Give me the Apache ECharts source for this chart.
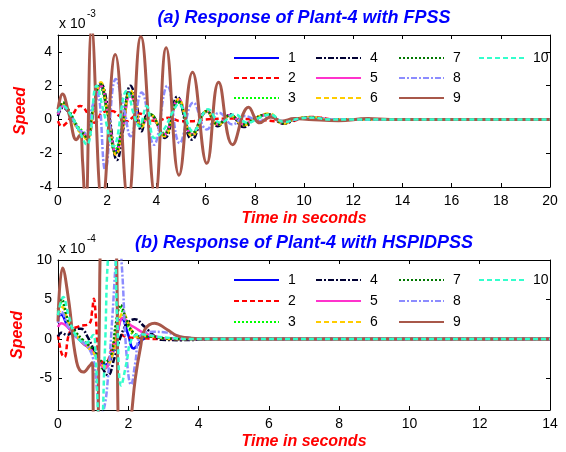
<!DOCTYPE html>
<html><head><meta charset="utf-8">
<script src="https://cdn.jsdelivr.net/npm/echarts@6/dist/echarts.min.js"></script>
<style>html,body{margin:0;padding:0;background:#fff}#c{width:566px;height:452px}</style>
</head><body><div id="c"></div>
<script>
// Series names (legend entries)
const seriesNames = ['1','2','3','4','5','6','7','8','9','10'];

// (a) FPSS response, speed in units of 1e-3, time in s
const topS1 = [[0,0.3],[0.2,0.9],[0.45,0.4],[0.8,-0.5],[1.0,-0.8],[1.18,-1.1],[1.42,0.5],[1.72,2.0],[2.0,0.5],[2.35,-1.9],[2.6,-0.6],[2.92,1.6],[3.1,1.1],[3.35,-0.4],[3.75,0.3],[4.3,-0.9],[4.88,1.1],[5.45,-0.9],[6.05,0.5],[6.5,-0.3],[7.0,0.25],[7.55,-0.3],[8.05,0.1],[8.55,0.3],[9.15,-0.2],[9.7,0.05],[10.3,0.1],[11,0],[12,0],[20,0]];
const topS2 = [[0,-0.1],[0.15,-0.4],[0.35,-0.2],[0.6,0.3],[0.9,0.8],[1.05,0.7],[1.3,0.1],[1.5,-0.2],[1.8,0.4],[2.2,0.5],[2.5,0.2],[2.8,-0.1],[3.1,0.2],[3.3,0.35],[3.7,0.0],[4.0,-0.1],[4.5,0.1],[5.0,-0.1],[5.5,-0.1],[6.0,0.0],[7.0,0.05],[8.0,0],[8.8,-0.1],[9.3,-0.15],[9.8,0],[10.3,0.15],[10.7,0.1],[11.2,0],[20,0]];
const topS3 = [[0,0.4],[0.2,1.0],[0.45,0.5],[0.8,-0.4],[1.0,-0.7],[1.18,-1.0],[1.42,0.6],[1.7,1.9],[2.0,0.4],[2.33,-1.8],[2.6,-0.5],[2.9,1.5],[3.1,1.0],[3.35,-0.3],[3.75,0.3],[4.3,-0.8],[4.88,1.0],[5.45,-0.8],[6.05,0.45],[6.5,-0.25],[7.0,0.2],[7.55,-0.25],[8.05,0.1],[8.55,0.25],[9.15,-0.15],[9.7,0.05],[10.3,0.1],[11,0],[20,0]];
const topS4 = [[0,0.2],[0.2,0.7],[0.45,0.4],[0.8,-0.5],[1.05,-0.9],[1.2,-1.2],[1.45,0.5],[1.75,2.1],[2.05,0.5],[2.4,-2.4],[2.65,-0.6],[2.95,2.0],[3.15,1.3],[3.4,-0.7],[3.65,0.3],[3.85,0.2],[4.35,-1.1],[4.85,1.35],[5.45,-1.2],[6.05,0.5],[6.5,-0.4],[7.0,0.3],[7.55,-0.45],[8.05,0.1],[8.55,0.3],[9.15,-0.25],[9.8,0.05],[10.3,0.1],[11,0],[20,0]];
const topS5 = [[0,0.3],[0.2,0.8],[0.45,0.4],[0.8,-0.5],[1.0,-0.8],[1.18,-1.0],[1.44,0.5],[1.74,2.0],[2.0,0.6],[2.37,-2.0],[2.62,-0.6],[2.93,1.4],[3.12,1.0],[3.38,-0.4],[3.75,0.25],[4.3,-0.9],[4.9,1.2],[5.45,-0.9],[6.05,0.5],[6.5,-0.3],[7.0,0.25],[7.55,-0.3],[8.05,0.1],[8.55,0.3],[9.15,-0.2],[9.7,0.05],[10.3,0.1],[11,0],[20,0]];
const topS6 = [[0,0.4],[0.2,0.9],[0.45,0.4],[0.8,-0.6],[1.0,-0.9],[1.18,-1.2],[1.44,0.6],[1.74,2.2],[2.0,0.5],[2.37,-2.1],[2.62,-0.6],[2.95,1.7],[3.12,1.2],[3.38,-0.5],[3.75,0.3],[4.32,-1.0],[4.9,1.2],[5.45,-1.0],[6.05,0.5],[6.5,-0.35],[7.0,0.25],[7.55,-0.35],[8.05,0.1],[8.6,0.35],[9.15,-0.25],[9.7,0.05],[10.3,0.12],[11,0],[20,0]];
const topS7 = [[0,0.4],[0.2,1.0],[0.45,0.5],[0.8,-0.5],[1.0,-0.8],[1.18,-1.1],[1.42,0.6],[1.72,2.1],[2.0,0.5],[2.35,-2.0],[2.6,-0.6],[2.92,1.6],[3.1,1.1],[3.35,-0.4],[3.75,0.3],[4.3,-0.9],[4.88,1.1],[5.45,-0.9],[6.05,0.5],[6.5,-0.3],[7.0,0.25],[7.55,-0.3],[8.05,0.1],[8.55,0.3],[9.15,-0.2],[9.7,0.05],[10.3,0.1],[11,0],[20,0]];
const topS8 = [[0,0.4],[0.2,0.8],[0.5,0.3],[0.85,-0.6],[1.1,-0.8],[1.4,0.8],[1.6,1.5],[1.92,-3.0],[2.35,2.4],[2.7,0.5],[2.95,-1.0],[3.4,1.6],[3.9,-1.5],[4.45,2.0],[4.95,-1.4],[5.5,1.0],[6.05,-0.6],[6.55,0.4],[7.1,-0.3],[7.6,0.2],[8.2,-0.1],[8.6,0.15],[9.2,-0.1],[10,0.05],[11,0],[20,0]];
const topS9 = [[0,0.6],[0.18,1.5],[0.45,0.3],[0.75,-1.2],[0.9,-0.9],[1.0,-2.5],[1.12,-5.5],[1.37,5.3],[1.8,-5.0],[2.33,3.85],[2.85,-4.8],[3.37,4.9],[3.95,-4.5],[4.4,4.25],[4.92,-3.3],[5.47,2.8],[6.05,-2.6],[6.53,2.2],[7.1,-1.5],[7.75,0.72],[8.2,-0.2],[8.65,0.15],[9.1,-0.1],[9.6,0.05],[10.2,0],[11.4,-0.08],[12.6,0.05],[13.5,0],[20,0]];
const topS10 = [[0,0.5],[0.2,0.8],[0.5,0.3],[0.8,-0.5],[1.17,-1.5],[1.57,2.0],[1.85,0.5],[2.25,-1.6],[2.8,1.7],[3.1,0.2],[3.3,-0.4],[3.6,0.8],[3.92,-1.1],[4.3,-0.6],[4.65,0.4],[4.9,0.9],[5.5,-0.7],[6.1,0.6],[6.6,-0.2],[7.2,0.3],[7.7,-0.2],[8.2,0.1],[8.6,0.3],[9.2,-0.15],[9.8,0.05],[10.4,0.1],[11,0],[20,0]];

// (b) HSPIDPSS response, speed in units of 1e-4, time in s
const botS1 = [[0,2.6],[0.08,3.1],[0.3,1.4],[0.5,0.5],[0.7,-0.5],[0.9,-1.2],[1.05,-1.8],[1.3,-3.3],[1.48,-2.8],[1.66,0.1],[1.82,2.6],[2.0,0.5],[2.15,-1.2],[2.4,-0.1],[2.65,0.3],[3.0,0.1],[3.5,0],[14,0]];
const botS2 = [[0,0.5],[0.1,-1.8],[0.18,-2.3],[0.34,0.9],[0.6,1.6],[0.9,2.0],[0.97,3.5],[1.02,5.1],[1.08,2.5],[1.16,-2.4],[1.35,-3.0],[1.55,-1.0],[1.75,0.6],[2.0,0.2],[2.4,0.1],[2.8,0],[14,0]];
const botS3 = [[0,3.5],[0.1,4.6],[0.3,2.0],[0.5,0.8],[0.7,-0.2],[0.9,-1.0],[1.05,-1.6],[1.3,-3.8],[1.5,-2.5],[1.65,1.5],[1.76,4.0],[1.95,2.0],[2.15,0.5],[2.35,0.2],[2.6,0.3],[3.0,0.1],[3.5,0],[14,0]];
const botS4 = [[0,0.3],[0.1,0.8],[0.25,0.5],[0.5,1.2],[0.65,1.3],[0.85,0.2],[1.0,-1.2],[1.2,-3.0],[1.42,-4.6],[1.6,-2.5],[1.8,0.5],[1.98,2.0],[2.18,2.5],[2.45,1.6],[2.75,0.35],[2.95,-0.1],[3.5,-0.15],[4.0,-0.1],[4.4,0],[14,0]];
const botS5 = [[0,1.5],[0.1,2.0],[0.25,1.6],[0.5,0.4],[0.7,-0.5],[0.9,-1.2],[1.05,-2.0],[1.33,-3.7],[1.55,-1.5],[1.7,1.0],[1.85,2.7],[2.05,1.8],[2.2,1.4],[2.42,0.8],[2.7,0.4],[3.0,0.1],[3.4,0],[14,0]];
const botS6 = [[0,3.0],[0.12,4.0],[0.3,2.0],[0.5,0.6],[0.7,-0.4],[0.9,-1.3],[1.05,-2.0],[1.35,-3.5],[1.55,-2.0],[1.7,1.5],[1.85,3.3],[2.05,1.5],[2.25,0.3],[2.5,0.4],[2.8,0.2],[3.2,0],[14,0]];
const botS7 = [[0,3.8],[0.1,5.0],[0.3,2.2],[0.5,0.9],[0.7,-0.1],[0.9,-0.9],[1.05,-1.5],[1.3,-3.0],[1.5,-2.2],[1.65,2.0],[1.78,4.3],[1.95,2.4],[2.15,0.8],[2.4,0.3],[2.7,0.3],[3.0,0.1],[3.5,0],[14,0]];
const botS8 = [[0,2.0],[0.1,3.4],[0.3,1.5],[0.5,0.3],[0.8,-0.8],[1.0,-2.5],[1.1,-6],[1.2,-9.5],[1.3,-9],[1.42,-5],[1.55,3],[1.65,10],[1.73,13],[1.82,9],[1.95,-2],[2.08,-5.8],[2.2,-3],[2.33,0.3],[2.7,0.9],[3.1,0.8],[3.4,0.4],[3.8,0.1],[4.3,0],[14,0]];
const botS9 = [[0,2.2],[0.13,9.0],[0.3,5.0],[0.53,-2.9],[0.72,-4.2],[0.9,-3.4],[0.97,-3.0],[1.02,-12],[1.1,-15],[1.17,0],[1.22,14],[1.45,16],[1.66,12],[1.72,-12],[1.9,-16],[2.08,-10],[2.2,-5],[2.35,-1],[2.47,1.2],[2.75,2.0],[3.1,1.2],[3.4,0.4],[3.8,0.1],[4.2,0],[14,0]];
const botS10 = [[0,3.0],[0.15,5.3],[0.3,3.0],[0.5,0.5],[0.8,-0.5],[1.0,0.5],[1.07,-2],[1.15,-10],[1.22,-12],[1.33,-2],[1.45,12],[1.58,13],[1.68,3],[1.8,-5.9],[1.95,-3],[2.1,0],[2.35,0.6],[2.8,0.3],[3.3,0.1],[3.8,0],[14,0]];

const topData = [topS1,topS2,topS3,topS4,topS5,topS6,topS7,topS8,topS9,topS10];
const botData = [botS1,botS2,botS3,botS4,botS5,botS6,botS7,botS8,botS9,botS10];

const lineStyles = [
  {color:'#0000ff', type:'solid', width:2.5},
  {color:'#ff0000', type:[5,3], width:2.5},
  {color:'#00ff00', type:[2,2], width:2.5},
  {color:'#000033', type:[6,2,2,2], width:2.5},
  {color:'#ff33cc', type:'solid', width:2.5},
  {color:'#ffcc00', type:[5,3], width:2.5},
  {color:'#007700', type:[2,2], width:2.5},
  {color:'#8c8cff', type:[6,2,2,2], width:2.5},
  {color:'#a8584a', type:'solid', width:3},
  {color:'#33ffcc', type:[5,3], width:2.5}
];

const FONT = '"Liberation Sans", Arial, sans-serif';
const series = [];
function addSeries(dataSets, xi, yi) {
  dataSets.forEach((d, i) => {
    const s = lineStyles[i];
    series.push({
      name: seriesNames[i], type:'line', xAxisIndex:xi, yAxisIndex:yi,
      data: d, showSymbol:false, symbol:'none', smooth:0.45, clip:true,
      lineStyle:{color:s.color, type:s.type, width:s.width},
      itemStyle:{color:s.color}, animation:false, z: 2 + i
    });
  });
}
addSeries(topData, 0, 0);
addSeries(botData, 2, 2);

const tickStyle = {show:true, inside:true, length:4, lineStyle:{color:'#000', width:1}};
const lineAx = {show:true, onZero:false, lineStyle:{color:'#000', width:1}};
const labelStyle = {color:'#000', fontSize:14, fontFamily:FONT};
const nameStyle = {color:'#ff0000', fontSize:16, fontWeight:'bold', fontStyle:'italic', fontFamily:FONT};

function legendCol(names, left, top, gap) {
  return {orient:'vertical', left:left, top:top, itemWidth:45, itemHeight:14, itemGap:gap,
    data:names, selectedMode:false, padding:0,
    itemStyle:{opacity:0, borderWidth:0},
    textStyle:{fontSize:14, color:'#000', fontFamily:FONT, padding:[0,0,0,4]}};
}

const option = {
  backgroundColor:'#fff',
  animation:false,
  grid:[
    {left:58, top:35, width:492, height:152},
    {left:58, top:260, width:492, height:150}
  ],
  legend:[
    legendCol(['1','2','3'],233,51,6),
    legendCol(['4','5','6'],315,51,6),
    legendCol(['7','8','9'],398,51,6),
    legendCol(['10'],478,51,6),
    legendCol(['1','2','3'],233,273,7),
    legendCol(['4','5','6'],315,273,7),
    legendCol(['7','8','9'],398,273,7),
    legendCol(['10'],478,273,7)
  ],
  xAxis:[
    {type:'value', gridIndex:0, position:'bottom', min:0, max:20, interval:2,
     axisLine:lineAx, axisTick:tickStyle, splitLine:{show:false}, axisLabel:Object.assign({margin:7}, labelStyle),
     name:'Time in seconds', nameLocation:'middle', nameGap:24, nameTextStyle:nameStyle},
    {type:'value', gridIndex:0, position:'top', min:0, max:20, interval:2,
     axisLine:lineAx, axisTick:tickStyle, splitLine:{show:false}, axisLabel:{show:false}},
    {type:'value', gridIndex:1, position:'bottom', min:0, max:14, interval:2,
     axisLine:lineAx, axisTick:tickStyle, splitLine:{show:false}, axisLabel:Object.assign({margin:7}, labelStyle),
     name:'Time in seconds', nameLocation:'middle', nameGap:24, nameTextStyle:nameStyle},
    {type:'value', gridIndex:1, position:'top', min:0, max:14, interval:2,
     axisLine:lineAx, axisTick:tickStyle, splitLine:{show:false}, axisLabel:{show:false}}
  ],
  yAxis:[
    {type:'value', gridIndex:0, position:'left', min:-4, max:5, interval:2,
     axisLine:lineAx, axisTick:tickStyle, splitLine:{show:false},
     axisLabel:Object.assign({margin:6, showMaxLabel:false}, labelStyle),
     name:'Speed', nameLocation:'middle', nameGap:27, nameRotate:90, nameTextStyle:nameStyle},
    {type:'value', gridIndex:0, position:'right', min:-4, max:5, interval:2,
     axisLine:lineAx, axisTick:tickStyle, splitLine:{show:false}, axisLabel:{show:false}},
    {type:'value', gridIndex:1, position:'left', min:-9, max:10,
     axisLine:lineAx, axisTick:Object.assign({customValues:[-5,0,5,10]}, tickStyle), splitLine:{show:false},
     axisLabel:Object.assign({margin:6, customValues:[-5,0,5,10]}, labelStyle),
     name:'Speed', nameLocation:'middle', nameGap:27, nameRotate:90, nameTextStyle:nameStyle},
    {type:'value', gridIndex:1, position:'right', min:-9, max:10,
     axisLine:lineAx, axisTick:Object.assign({customValues:[-5,0,5,10]}, tickStyle), splitLine:{show:false}, axisLabel:{show:false}}
  ],
  graphic:[
    {type:'text', x:304, y:18, style:{text:'(a) Response of Plant-4 with FPSS', fill:'#0000ff', font:'italic bold 18px ' + FONT, textAlign:'center', textVerticalAlign:'middle'}},
    {type:'text', x:304, y:243, style:{text:'(b) Response of Plant-4 with HSPIDPSS', fill:'#0000ff', font:'italic bold 18px ' + FONT, textAlign:'center', textVerticalAlign:'middle'}},
    {type:'text', x:59, y:24, style:{text:'x 10', fill:'#000', font:'14px ' + FONT, textAlign:'left', textVerticalAlign:'middle'}},
    {type:'text', x:87, y:14, style:{text:'-3', fill:'#000', font:'10px ' + FONT, textAlign:'left', textVerticalAlign:'middle'}},
    {type:'text', x:59, y:249, style:{text:'x 10', fill:'#000', font:'14px ' + FONT, textAlign:'left', textVerticalAlign:'middle'}},
    {type:'text', x:87, y:239, style:{text:'-4', fill:'#000', font:'10px ' + FONT, textAlign:'left', textVerticalAlign:'middle'}}
  ],
  series: series
};

const chart = echarts.init(document.getElementById('c'), null, {renderer:'canvas', width:566, height:452});
chart.setOption(option);
</script>
</body></html>
